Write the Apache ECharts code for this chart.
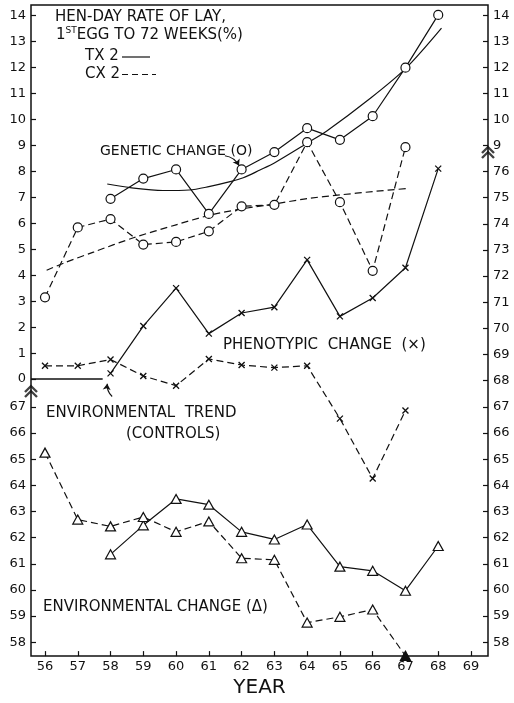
<!DOCTYPE html>
<html>
<head>
<meta charset="utf-8">
<script src="https://cdn.jsdelivr.net/npm/echarts@6/dist/echarts.min.js"></script>
<style>
  html, body { margin: 0; padding: 0; background: #fff; }
  #chart { width: 514px; height: 703px; }
</style>
</head>
<body>
<div id="chart"></div>
<script>
// Hen-day rate of lay, 1st egg to 72 weeks (%), lines TX 2 and CX 2

// Genetic change (left upper scale 0-14, right 9-14)
const genTxYears = [58, 59, 60, 61, 62, 63, 64, 65, 66, 67, 68];
const genTx      = [6.94, 7.72, 8.07, 6.36, 8.07, 8.74, 9.66, 9.21, 10.12, 11.99, 14.02];
const genCxYears = [56, 57, 58, 59, 60, 61, 62, 63, 64, 65, 66, 67];
const genCx      = [3.15, 5.84, 6.16, 5.18, 5.28, 5.69, 6.65, 6.71, 9.12, 6.81, 4.17, 8.93];

// Fitted genetic trends
const genTxTrendYears = [57.9, 58.6, 59.6, 60.4, 61.0, 61.65, 62.05, 62.56, 63.0, 64.05, 64.6, 65.9, 67.0, 68.1];
const genTxTrend      = [7.51, 7.37, 7.26, 7.28, 7.41, 7.60, 7.75, 8.05, 8.32, 9.12, 9.55, 10.78, 11.95, 13.51];
const genCxTrendYears = [56.05, 56.6, 57.5, 58.7, 60.0, 61.0, 62.0, 63.0, 64.0, 65.0, 66.0, 67.08];
const genCxTrend      = [4.19, 4.48, 4.90, 5.44, 5.94, 6.30, 6.55, 6.74, 6.95, 7.09, 7.22, 7.34];

// Environmental trend (controls) on the genetic zero line
const envTrendYears = [55.573, 57.76];
const envTrend      = [0, 0];

// Phenotypic change (right scale 58-76)
const phenTxYears = [58, 59, 60, 61, 62, 63, 64, 65, 66, 67, 68];
const phenTx      = [68.28, 70.09, 71.54, 69.80, 70.59, 70.81, 72.62, 70.46, 71.16, 72.32, 76.11];
const phenCxYears = [56, 57, 58, 59, 60, 61, 62, 63, 64, 65, 66, 67];
const phenCx      = [68.57, 68.57, 68.81, 68.18, 67.81, 68.83, 68.60, 68.50, 68.57, 66.55, 64.26, 66.86];

// Environmental change (left lower scale 58-67)
const envTxYears = [58, 59, 60, 61, 62, 63, 64, 65, 66, 67, 68];
const envTx      = [61.36, 62.47, 63.48, 63.26, 62.22, 61.93, 62.50, 60.89, 60.73, 59.97, 61.68];
const envCxYears = [56, 57, 58, 59, 60, 61, 62, 63, 64, 65, 66, 67];
const envCx      = [65.25, 62.69, 62.43, 62.79, 62.22, 62.62, 61.21, 61.15, 58.75, 58.97, 59.25, 57.48];

// Tick labels
const yearTicks      = [56, 57, 58, 59, 60, 61, 62, 63, 64, 65, 66, 67, 68, 69];
const genLeftTicks   = [0, 1, 2, 3, 4, 5, 6, 7, 8, 9, 10, 11, 12, 13, 14];
const genRightTicks  = [9, 10, 11, 12, 13, 14];
const envLeftTicks   = [58, 59, 60, 61, 62, 63, 64, 65, 66, 67];
const phenRightTicks = [58, 59, 60, 61, 62, 63, 64, 65, 66, 67, 68, 69, 70, 71, 72, 73, 74, 75, 76];

const INK = '#111';
const FONT = 'DejaVu Sans';
const GEN_MIN = -10.662, GEN_MAX = 14.401;
const PCT_MIN = 57.4695, PCT_MAX = 82.366;
const X_MIN = 55.573, X_MAX = 69.519;

const pairs = (xs, ys) => xs.map((x, i) => [x, ys[i]]);

function yAxis(position, min, max, ticks) {
  return {
    type: 'value', position, min, max,
    axisLine: { show: false, onZero: false },
    splitLine: { show: false },
    axisTick: { show: true, inside: true, length: 5, customValues: ticks,
                lineStyle: { color: INK, width: 1.2 } },
    axisLabel: { customValues: ticks, margin: 5, color: INK,
                 fontFamily: FONT, fontSize: 13 }
  };
}

const CROSS = 'path://M0,0L10,10M10,0L0,10';
const BREAK = 'path://M0,6L6,0L12,6M0,11L6,5L12,11';

const circleStyle = { color: '#fff', borderColor: INK, borderWidth: 1.2 };
const triStyle = { color: '#fff', borderColor: INK, borderWidth: 1.2 };
const crossStyle = { color: INK, borderColor: INK, borderWidth: 1.3 };
const dash = [7, 4];

function dataLine(name, xs, ys, yIdx, symbol, size, itemStyle, dashed) {
  return {
    name, type: 'line', xAxisIndex: 0, yAxisIndex: yIdx,
    data: pairs(xs, ys), symbol, symbolSize: size, showAllSymbol: true,
    itemStyle, lineStyle: { color: INK, width: 1.2, type: dashed ? dash : 'solid' },
    z: 5
  };
}

const envCxData = pairs(envCxYears, envCx).map((p, i, arr) =>
  i === arr.length - 1 ? { value: p, itemStyle: { color: INK } } : p);

const chart = echarts.init(document.getElementById('chart'), null, { renderer: 'canvas' });

const textStyle = (text, x, y, size) => ({
  type: 'text', x, y, silent: true,
  style: { text, fill: INK, font: `${size}px "${FONT}"`, align: 'left', verticalAlign: 'middle' }
});

chart.setOption({
  animation: false,
  backgroundColor: '#fff',
  grid: { left: 31, right: 26, top: 5, bottom: 41, show: true, borderColor: INK, borderWidth: 1.5 },
  xAxis: {
    type: 'value', min: X_MIN, max: X_MAX,
    axisLine: { show: false, onZero: false }, splitLine: { show: false },
    axisTick: { show: true, inside: true, length: 5, customValues: yearTicks,
                lineStyle: { color: INK, width: 1.2 } },
    axisLabel: { customValues: yearTicks, margin: 4, color: INK, fontFamily: FONT, fontSize: 13 },
    name: 'YEAR', nameLocation: 'middle', nameGap: 11,
    nameTextStyle: { color: INK, fontFamily: FONT, fontSize: 20 }
  },
  yAxis: [
    yAxis('left', GEN_MIN, GEN_MAX, genLeftTicks),
    yAxis('left', PCT_MIN, PCT_MAX, envLeftTicks),
    yAxis('right', PCT_MIN, PCT_MAX, phenRightTicks),
    yAxis('right', GEN_MIN, GEN_MAX, genRightTicks)
  ],
  series: [
    { type: 'line', yAxisIndex: 0, data: pairs(genTxTrendYears, genTxTrend), smooth: 0.3,
      symbol: 'none', lineStyle: { color: INK, width: 1.2 }, z: 3 },
    { type: 'line', yAxisIndex: 0, data: pairs(genCxTrendYears, genCxTrend), smooth: 0.3,
      symbol: 'none', lineStyle: { color: INK, width: 1.2, type: dash }, z: 3 },
    { type: 'line', yAxisIndex: 0, data: pairs(envTrendYears, envTrend),
      symbol: 'none', lineStyle: { color: INK, width: 1.5 }, z: 3 },
    dataLine('Genetic TX 2', genTxYears, genTx, 0, 'circle', 9, circleStyle, false),
    dataLine('Genetic CX 2', genCxYears, genCx, 0, 'circle', 9, circleStyle, true),
    dataLine('Phenotypic TX 2', phenTxYears, phenTx, 2, CROSS, 6, crossStyle, false),
    dataLine('Phenotypic CX 2', phenCxYears, phenCx, 2, CROSS, 6, crossStyle, true),
    dataLine('Environmental TX 2', envTxYears, envTx, 1, 'triangle', [10, 9], triStyle, false),
    Object.assign(dataLine('Environmental CX 2', envCxYears, envCx, 1, 'triangle', [10, 9], triStyle, true),
                  { data: envCxData }),
    { type: 'lines', coordinateSystem: 'cartesian2d', xAxisIndex: 0, yAxisIndex: 0,
      symbol: ['none', 'arrow'], symbolSize: 6,
      lineStyle: { color: INK, width: 1.1, opacity: 1, curveness: 0.25 },
      data: [ { coords: [[61.49, 8.60], [61.92, 8.22]] },
              { coords: [[58.05, -0.67], [57.90, -0.18]] } ],
      z: 6 },
    { type: 'scatter', xAxisIndex: 0, yAxisIndex: 0, clip: false, symbol: BREAK, symbolSize: [12, 11],
      itemStyle: { color: 'transparent', borderColor: INK, borderWidth: 2.2 },
      data: [[X_MIN, -0.48], [X_MAX, 8.72]], z: 7 }
  ],
  graphic: [
    textStyle('HEN-DAY RATE OF LAY,', 55, 17, 15),
    { type: 'text', x: 56, y: 35, silent: true,
      style: { text: '1{s|ST}EGG TO 72 WEEKS(%)', fill: INK, font: `15px "${FONT}"`,
               align: 'left', verticalAlign: 'middle', lineHeight: 17,
               rich: { s: { fontSize: 9, fontFamily: FONT, fill: INK, verticalAlign: 'top', lineHeight: 10 } } } },
    textStyle('TX 2', 85, 56, 15),
    { type: 'line', silent: true, shape: { x1: 122, y1: 57, x2: 150, y2: 57 },
      style: { stroke: INK, lineWidth: 1.2 } },
    textStyle('CX 2', 85, 74, 15),
    { type: 'line', silent: true, shape: { x1: 122, y1: 74.5, x2: 156, y2: 74.5 },
      style: { stroke: INK, lineWidth: 1.2, lineDash: [6, 4] } },
    textStyle('GENETIC CHANGE (O)', 100, 151, 14),
    textStyle('PHENOTYPIC  CHANGE  (×)', 223, 345, 15),
    textStyle('ENVIRONMENTAL  TREND', 46, 413, 15),
    textStyle('(CONTROLS)', 126, 434, 15),
    textStyle('ENVIRONMENTAL CHANGE (Δ)', 43, 607, 15)
  ]
});
</script>
</body>
</html>
